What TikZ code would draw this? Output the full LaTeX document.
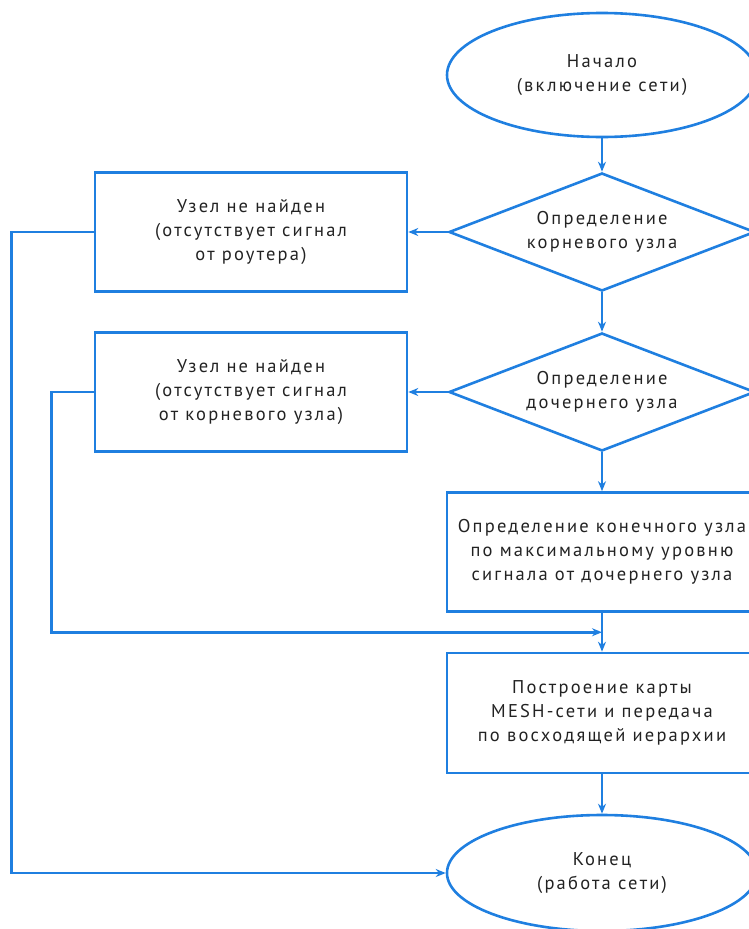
\documentclass[tikz,border=0pt]{standalone}
\usepackage{fontspec}
\setmainfont[LetterSpace=12]{PT Sans}
\usepackage{xcolor}
\definecolor{flowline}{HTML}{1F7FE0}
\definecolor{flowtext}{HTML}{222222}
\usepackage{tikz}
\usetikzlibrary{arrows.meta,positioning,shapes.geometric,calc}

\begin{document}
\begin{tikzpicture}[x=1pt,y=-1pt,
  base/.style={draw=flowline,line width=2.6pt,text=flowtext,align=center,
    font=\fontsize{18.5}{24}\selectfont,inner sep=0pt},
  term/.style={base,ellipse,minimum width=310pt,minimum height=124pt},
  check/.style={base,diamond,shape aspect=2.6,minimum width=306pt,minimum height=118pt},
  stepbox/.style={base,rectangle,minimum width=312pt,minimum height=119pt},
  flow/.style={draw=flowline,line width=2.6pt,-{Stealth[length=10pt,width=8pt]}}]
\useasboundingbox (0,0) rectangle (748,929);

\node[term] (start) at (602,75) {Начало\\(включение сети)};
\node[check] (rootq) at (602,232) {Определение\\корневого узла};
\node[stepbox] (noroot) at (251,232) {Узел не найден\\(отсутствует сигнал\\от роутера)};
\node[check] (childq) at (602,392) {Определение\\дочернего узла};
\node[stepbox] (nochild) at (251,392) {Узел не найден\\(отсутствует сигнал\\от корневого узла)};
\node[stepbox,minimum width=310pt] (leaf) at (602,552) {Определение конечного узла\\по максимальному уровню\\сигнала от дочернего узла};
\node[stepbox,minimum width=310pt,minimum height=120pt] (meshmap) at (602,713) {Построение карты\\MESH-сети и передача\\по восходящей иерархии};
\node[term,minimum height=116pt] (stop) at (602,873) {Конец\\(работа сети)};

\coordinate (join) at ($(leaf.south)!0.5!(meshmap.north)$);

% main column
\draw[flow] (start) -- (rootq);
\draw[flow] (rootq) -- (childq);
\draw[flow] (childq) -- (leaf);
\draw[flow] (leaf) -- (meshmap);
\draw[flow] (meshmap) -- (stop);

% side branches
\draw[flow] (rootq.west) -- (noroot.east);
\draw[flow] (childq.west) -- (nochild.east);
\draw[flow] (noroot.west) -- ++(-82,0) |- (stop.west);
\draw[flow] (nochild.west) -- ++(-42,0) |- (join);
\end{tikzpicture}
\end{document}
